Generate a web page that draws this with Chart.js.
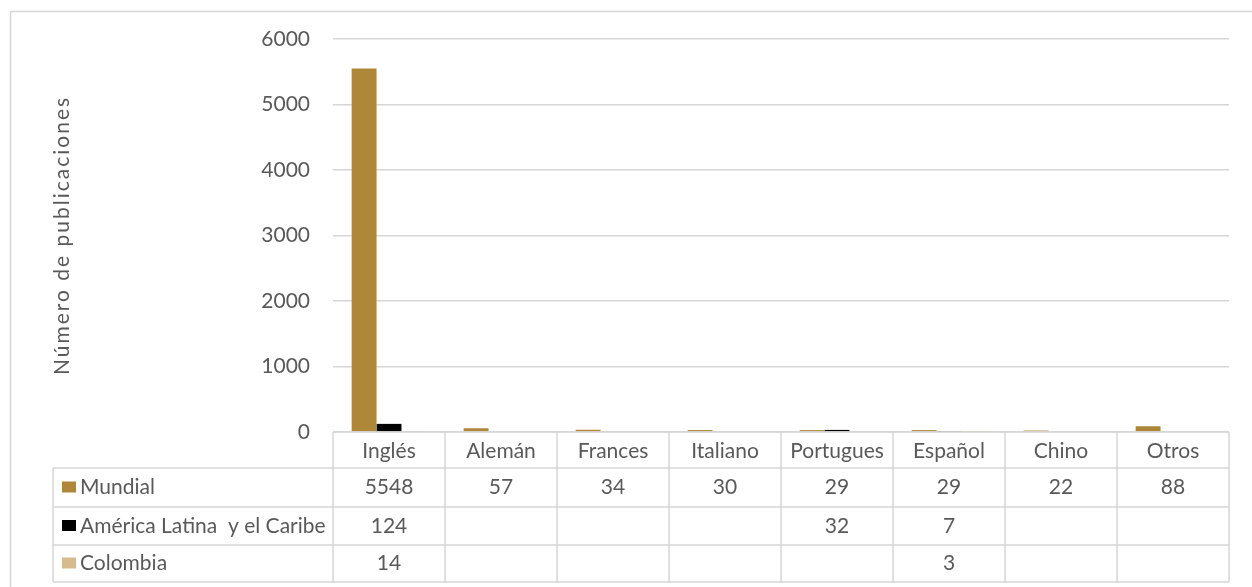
<!DOCTYPE html>
<html>
<head>
<meta charset="utf-8">
<script src="https://cdn.jsdelivr.net/npm/chart.js@4.4.1/dist/chart.umd.min.js"></script>
<style>
  html, body { margin: 0; padding: 0; background: #fff; }
  #wrap { position: relative; width: 1252px; height: 587px; }
</style>
</head>
<body>
<div id="wrap"><canvas id="chart" width="1252" height="587"></canvas></div>
<script>
'use strict';

// 언어별 출판 수 (데이터 테이블 포함)
const categories = ['Inglés', 'Alemán', 'Frances', 'Italiano', 'Portugues', 'Español', 'Chino', 'Otros'];
const mundial    = [5548, 57, 34, 30, 29, 29, 22, 88];
const latam      = [124, null, null, null, 32, 7, null, null];
const colombia   = [14, null, null, null, null, 3, null, null];
const yTicks     = [0, 1000, 2000, 3000, 4000, 5000, 6000];

const TEXT  = '#595959';
const LINE  = '#d6d6d6';
const FONT  = 'Lato, "Open Sans", sans-serif';

const seriesDefs = [
  { label: 'Mundial',                    data: mundial,  color: '#ae8739' },
  { label: 'América Latina  y el Caribe', data: latam,    color: '#000000' },
  { label: 'Colombia',                   data: colombia, color: '#d6bb8c' },
];

// 차트 아래 데이터 테이블 + 바깥 테두리
const dataTable = {
  id: 'dataTable',
  beforeDraw(chart) {
    const { ctx } = chart;
    ctx.save();
    ctx.strokeStyle = LINE;
    ctx.lineWidth = 1.5;
    ctx.strokeRect(10.5, 11.5, 1400, 800);
    ctx.restore();
  },
  afterDraw(chart) {
    const { ctx, chartArea: ca } = chart;
    const n    = categories.length;
    const colW = (ca.right - ca.left) / n;
    const top  = ca.bottom;
    const rowY = [top, top + 36, top + 75, top + 113, top + 150];
    const legL = 53;

    ctx.save();
    ctx.strokeStyle = LINE;
    ctx.lineWidth = 1.5;
    ctx.beginPath();
    // 가로선
    ctx.moveTo(ca.left, rowY[0]); ctx.lineTo(ca.right, rowY[0]);
    for (let r = 1; r < rowY.length; r++) {
      ctx.moveTo(legL, rowY[r]); ctx.lineTo(ca.right, rowY[r]);
    }
    // 세로선
    ctx.moveTo(legL, rowY[1]); ctx.lineTo(legL, rowY[4]);
    for (let c = 0; c <= n; c++) {
      const x = ca.left + c * colW;
      ctx.moveTo(x, rowY[0]); ctx.lineTo(x, rowY[4]);
    }
    ctx.stroke();

    ctx.fillStyle = TEXT;
    ctx.font = '21px ' + FONT;
    ctx.textAlign = 'center';
    ctx.textBaseline = 'middle';
    categories.forEach((c, i) => {
      ctx.fillText(c, ca.left + (i + 0.5) * colW, (rowY[0] + rowY[1]) / 2 + 1);
    });

    seriesDefs.forEach((s, r) => {
      const yMid = (rowY[r + 1] + rowY[r + 2]) / 2;
      ctx.fillStyle = s.color;
      ctx.fillRect(62, yMid - 6, 14, 11);
      ctx.fillStyle = TEXT;
      ctx.textAlign = 'left';
      ctx.fillText(s.label, 80, yMid);
      ctx.textAlign = 'center';
      s.data.forEach((v, i) => {
        if (v === null) return;
        ctx.fillText(String(v), ca.left + (i + 0.5) * colW, yMid);
      });
    });
    ctx.restore();
  },
};

new Chart(document.getElementById('chart'), {
  type: 'bar',
  data: {
    labels: categories,
    datasets: seriesDefs.map(s => ({
      label: s.label,
      data: s.data,
      backgroundColor: s.color,
      borderWidth: 0,
      categoryPercentage: 0.667,
      barPercentage: 1,
    })),
  },
  options: {
    responsive: false,
    animation: false,
    layout: { padding: { left: 0, top: 39, right: 23, bottom: 155 } },
    plugins: {
      legend: { display: false },
      tooltip: { enabled: false },
    },
    scales: {
      x: { display: false },
      y: {
        min: 0,
        max: 6000,
        afterBuildTicks: scale => { scale.ticks = yTicks.map(v => ({ value: v })); },
        afterFit: scale => {
          scale.width = 333;
          // 축 제목은 자간을 넓게
          if (!scale._spaced) {
            const orig = scale.drawTitle.bind(scale);
            scale.drawTitle = function () {
              this.ctx.save();
              this.ctx.letterSpacing = '2px';
              orig();
              this.ctx.restore();
            };
            scale._spaced = true;
          }
        },
        grid: { color: LINE, lineWidth: 1.5, drawTicks: false },
        border: { display: false },
        ticks: {
          padding: 23,
          color: TEXT,
          font: { family: FONT, size: 21 },
          callback: v => String(v),
        },
        title: {
          display: true,
          text: 'Número de publicaciones',
          color: TEXT,
          font: { family: FONT, size: 21 },
          padding: { top: 50, bottom: 0 },
        },
      },
    },
  },
  plugins: [dataTable],
});
</script>
</body>
</html>
